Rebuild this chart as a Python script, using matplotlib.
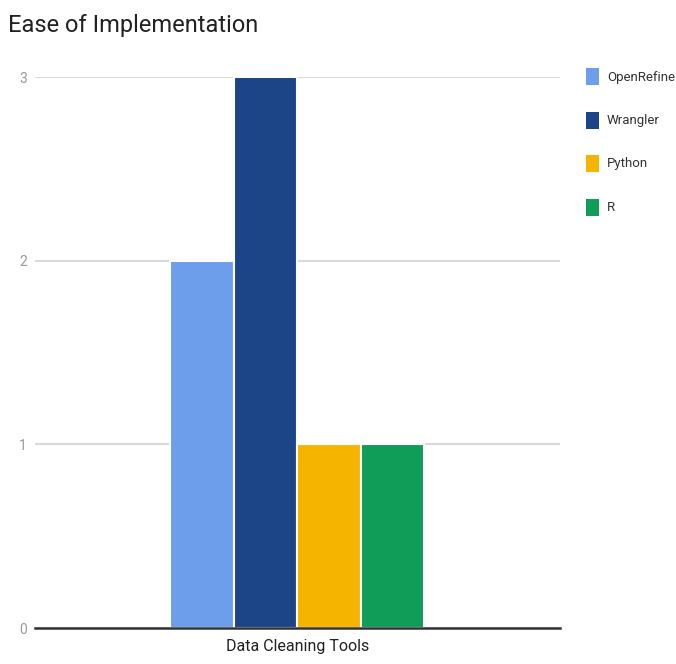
import matplotlib
matplotlib.use("Agg")
import matplotlib.pyplot as plt
import matplotlib.patches as mpatches

plt.rcParams["font.family"] = ["Roboto", "DejaVu Sans"]

# data
tools = ["OpenRefine", "Wrangler", "Python", "R"]
scores = [2, 3, 1, 1]
colors = ["#6d9eeb", "#1c4587", "#f4b400", "#0f9d58"]
category = "Data Cleaning Tools"
yticks = [0, 1, 2, 3]

fig = plt.figure(figsize=(6.76, 6.64), dpi=100)
fig.patch.set_facecolor("white")
ax = fig.add_axes([0.052, 0.054, 0.776, 0.830])

step = 0.121
n = len(tools)
for i, (name, val, c) in enumerate(zip(tools, scores, colors)):
    x = (i - (n - 1) / 2) * step
    ax.bar(x, val, width=step, color=c, edgecolor="white", linewidth=1.5, zorder=3)

ax.set_xlim(-0.5, 0.5)
ax.set_ylim(0, 3)
ax.set_yticks(yticks)
ax.set_yticklabels([str(t) for t in yticks], color="#9a9a9a", fontsize=10)
ax.tick_params(axis="y", length=0, pad=6)
ax.set_xticks([0])
ax.set_xticklabels([category], fontsize=11.5, color="#222222")
ax.tick_params(axis="x", length=0, pad=8)
ax.grid(axis="y", color="#d9d9d9", linewidth=1.5, zorder=0)
ax.set_axisbelow(True)
for s in ["top", "right", "left"]:
    ax.spines[s].set_visible(False)
ax.spines["bottom"].set_color("#333333")
ax.spines["bottom"].set_linewidth(1.8)
ax.spines["bottom"].set_zorder(4)

fig.text(0.012, 0.962, "Ease of Implementation", fontsize=17, color="#222222",
         ha="left", va="center")

# legend on the right
for i, (name, c) in enumerate(zip(tools, colors)):
    yc = 1 - (77 + i * 43.5) / 664
    fig.add_artist(mpatches.Rectangle((586 / 676, yc - 8 / 664), 13 / 676, 17 / 664,
                                      transform=fig.transFigure, facecolor=c, edgecolor="none"))
    fig.text(607 / 676, yc, name, fontsize=9.5, color="#333333", ha="left", va="center")

fig.savefig("out.png", dpi=100, facecolor="white")
